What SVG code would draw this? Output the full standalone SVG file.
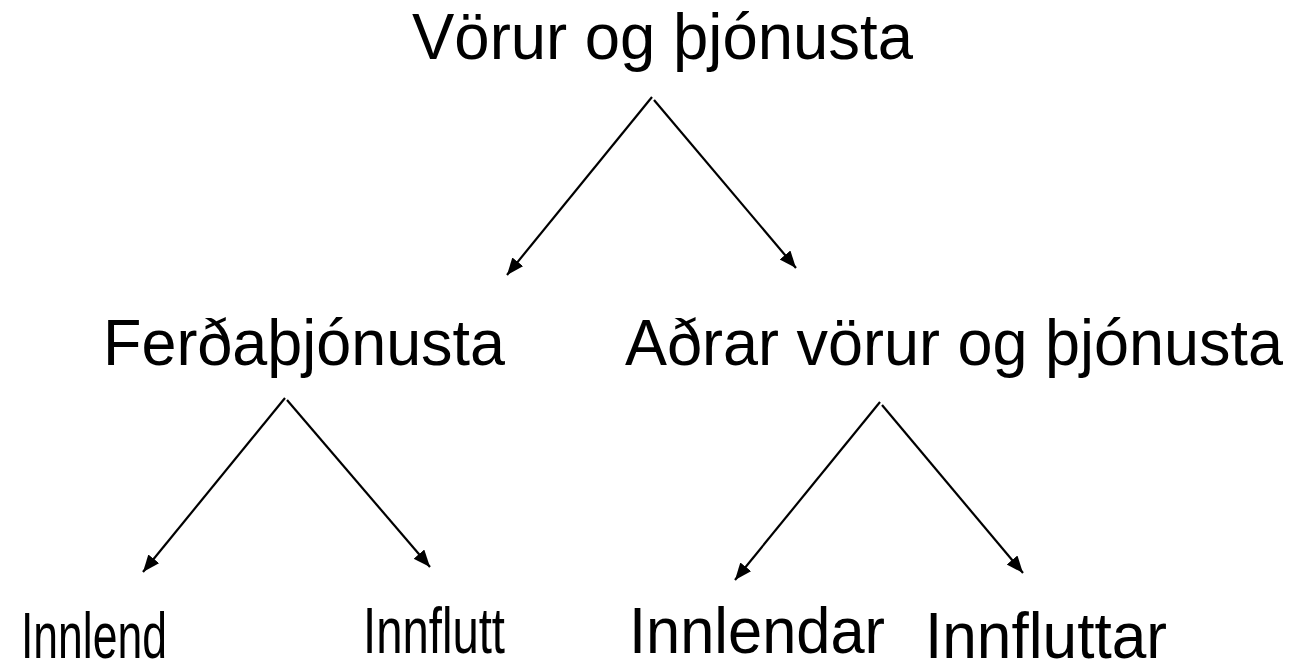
<svg xmlns="http://www.w3.org/2000/svg" width="1301" height="664" viewBox="0 0 1301 664">
  <style>
    .lbl { font-family: "Liberation Sans", Arial, sans-serif; font-size: 64px; fill: #000; }
    .edge { stroke: #000; stroke-width: 2.2; fill: none; marker-end: url(#arrow); }
  </style>
  <defs>
    <marker id="arrow" markerUnits="userSpaceOnUse" markerWidth="20" markerHeight="16" refX="17" refY="7" orient="auto">
      <path d="M0,0 L17,7 L0,14 z" fill="#000"/>
    </marker>
  </defs>
  <rect width="1301" height="664" fill="#fff"/>
  <g id="connectors">
    <line class="edge" x1="652" y1="97" x2="507" y2="275"/>
    <line class="edge" x1="654" y1="100" x2="796" y2="268"/>
    <line class="edge" x1="285" y1="398" x2="143" y2="572"/>
    <line class="edge" x1="287" y1="400" x2="430" y2="567"/>
    <line class="edge" x1="880" y1="402" x2="735" y2="580"/>
    <line class="edge" x1="882" y1="405" x2="1023" y2="573"/>
  </g>
  <g id="node-vorur">
    <text class="lbl" x="412" y="59" textLength="501" lengthAdjust="spacingAndGlyphs">Vörur og þjónusta</text>
  </g>
  <g id="node-ferdathjonusta">
    <text class="lbl" x="103" y="365" textLength="402" lengthAdjust="spacingAndGlyphs">Ferðaþjónusta</text>
  </g>
  <g id="node-adrar">
    <text class="lbl" x="625" y="365" textLength="658" lengthAdjust="spacingAndGlyphs">Aðrar vörur og þjónusta</text>
  </g>
  <g id="node-innlend">
    <text class="lbl" x="21" y="658" textLength="146" lengthAdjust="spacingAndGlyphs">Innlend</text>
  </g>
  <g id="node-innflutt">
    <text class="lbl" x="363" y="653" textLength="142" lengthAdjust="spacingAndGlyphs">Innflutt</text>
  </g>
  <g id="node-innlendar">
    <text class="lbl" x="629" y="653" textLength="256" lengthAdjust="spacingAndGlyphs">Innlendar</text>
  </g>
  <g id="node-innfluttar">
    <text class="lbl" x="925" y="658" textLength="242" lengthAdjust="spacingAndGlyphs">Innfluttar</text>
  </g>
</svg>
